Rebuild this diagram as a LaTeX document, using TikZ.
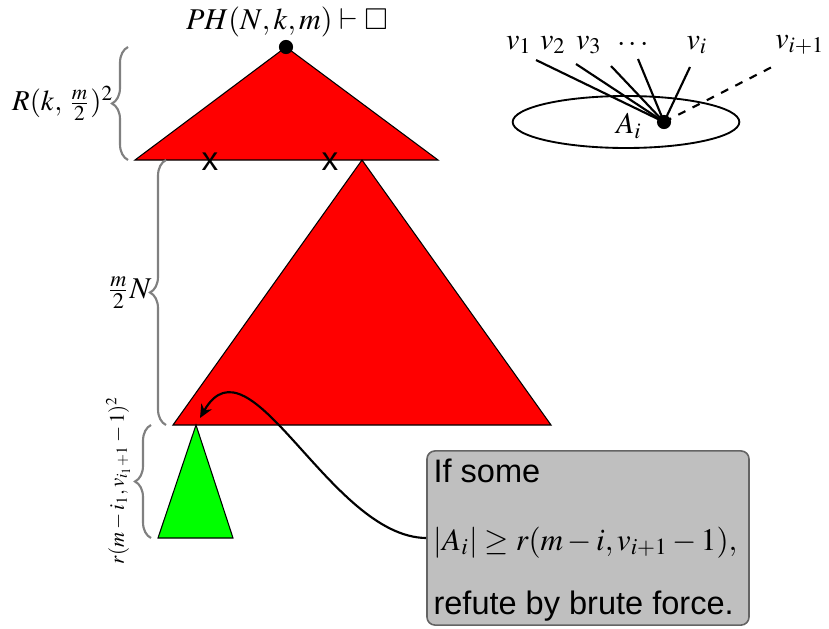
\documentclass[tikz,border=0pt]{standalone}
\usepackage{amssymb}
\usepackage{mathptmx}
\usepackage[no-math]{fontspec}
\setmainfont{Liberation Serif}
\setsansfont{Liberation Sans}
\usetikzlibrary{decorations.pathreplacing,shapes.geometric,arrows.meta}
\definecolor{boxgray}{RGB}{191,191,191}
\definecolor{bordergray}{RGB}{100,100,100}
\definecolor{bracegray}{RGB}{128,128,128}
\begin{document}
\fontsize{11.3}{13.5}\selectfont
\begin{tikzpicture}[x=0.375pt,y=-0.375pt,
  tri/.style={draw=black,line width=0.4pt,line join=miter},
  bracestyle/.style={draw=bracegray,line width=0.8pt,decorate,decoration={brace,amplitude=6pt}},
  conn/.style={line width=0.8pt},
  dotnode/.style={circle,fill=black,inner sep=0pt,minimum size=5.3pt},
  xmark/.style={font=\fontsize{12.5}{14}\sffamily,inner sep=0pt},
  boxtext/.style={anchor=base west,inner sep=0pt},
  textbox/.style={draw=bordergray,fill=boxgray,rounded corners=3pt,line width=0.6pt,minimum width=120.75pt,minimum height=65.3pt}]
\useasboundingbox (0,0) rectangle (829,628);

% coordinates of triangles
\coordinate (t1a) at (286,47);
\coordinate (t1l) at (135,160);
\coordinate (t1r) at (438,160);
\coordinate (t2a) at (362,160);
\coordinate (t2l) at (173,425);
\coordinate (t2r) at (551,425);
\coordinate (t3a) at (196,425);
\coordinate (t3l) at (158,538);
\coordinate (t3r) at (233,538);

\fill[red,tri] (t1a) -- (t1l) -- (t1r) -- cycle;
\fill[red,tri] (t2a) -- (t2l) -- (t2r) -- cycle;
\fill[green,tri] (t3a) -- (t3l) -- (t3r) -- cycle;

\node[dotnode] (root) at (t1a) {};
\node (ph) at (287,22) {$PH(N,k,m)\vdash\Box$};

\node[xmark] (x1) at (210,162) {x};
\node[xmark] (x2) at (330,162) {x};

% braces
\coordinate (b1s) at (128,160);
\coordinate (b1e) at (128,47);
\draw[bracestyle] (b1s) -- (b1e) node[midway,left=5pt,inner sep=0pt,black,font=\fontsize{10.8}{13}\selectfont] (l1) {$R(k,\,\frac{m}{2})^{2}$};
\coordinate (b2s) at (166,425);
\coordinate (b2e) at (166,160);
\draw[bracestyle] (b2s) -- (b2e) node[midway,left=5pt,inner sep=0pt,black] (l2) {$\frac{m}{2}N$};
\coordinate (b3s) at (151,538);
\coordinate (b3e) at (151,425);
\draw[bracestyle] (b3s) -- (b3e);
\node[rotate=90,font=\fontsize{7.8}{9.5}\selectfont] (l3) at (118,480) {$r(m-i_1,v_{i_1+1}-1)^2$};

% text box
\node[textbox] (box) at (588,538) {};
\node[boxtext,font=\fontsize{12.2}{14}\sffamily] (bt1) at (433,482) {If some};
\node[boxtext,font=\fontsize{11.7}{14}\selectfont] (bt2) at (433,550) {$|A_i|\geq r(m-i,v_{i+1}-1),$};
\node[boxtext,font=\fontsize{12.2}{14}\sffamily] (bt3) at (433,614) {refute by brute force.};

\coordinate (arrowend) at (200,418);
\draw[conn,-{Stealth[length=5pt,width=4.5pt]}] (box.west) .. controls (330,537) and (250,330) .. (arrowend);

% top-right diagram
\node[ellipse,draw,line width=0.7pt,minimum width=85pt,minimum height=19.5pt,inner sep=0pt] (ell) at (626,122) {};
\node[dotnode] (ai) at (664,122) {};
\node (alab) at (629,126) {$A_i$};
\node (v1) at (519,45) {$v_1$};
\node (v2) at (553,45) {$v_2$};
\node (v3) at (589,45) {$v_3$};
\node (vd) at (633,45) {$\cdots$};
\node (vi) at (697,45) {$v_i$};
\node (vip) at (800,45) {$v_{i+1}$};
\coordinate (e1) at (536,60);
\coordinate (e2) at (576,64);
\coordinate (e3) at (611,66);
\coordinate (ed) at (638,59);
\coordinate (ei) at (690,67);
\coordinate (eip) at (772,67);
\draw[conn] (ai.center) -- (e1);
\draw[conn] (ai.center) -- (e2);
\draw[conn] (ai.center) -- (e3);
\draw[conn] (ai.center) -- (ed);
\draw[conn] (ai.center) -- (ei);
\draw[conn,dashed] (ai.center) -- (eip);
\end{tikzpicture}
\end{document}
